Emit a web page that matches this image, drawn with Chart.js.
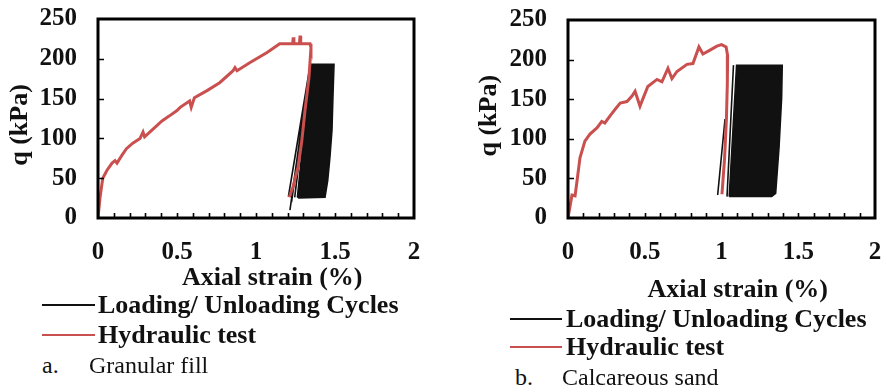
<!DOCTYPE html>
<html>
<head>
<meta charset="utf-8">
<script src="https://cdn.jsdelivr.net/npm/chart.js@4.4.1/dist/chart.umd.min.js"></script>
<style>
  body { margin: 0; background: #fff; width: 887px; height: 392px; position: relative; overflow: hidden; }
  canvas { position: absolute; top: 0; }
  #chartA { left: 0; }
  #chartB { left: 440px; }
  .leg { position: absolute; font: bold 26px 'Liberation Serif', serif; line-height: 30px; white-space: nowrap; color: #111; }
  .cap { position: absolute; font: 24px 'Liberation Serif', serif; line-height: 30px; white-space: nowrap; color: #111; }
  .ln { position: absolute; height: 2px; }
</style>
</head>
<body>
<canvas id="chartA" width="440" height="310"></canvas>
<canvas id="chartB" width="447" height="310"></canvas>

<div class="ln" style="left:42px;top:304px;width:53px;background:#111"></div>
<div class="leg" style="left:98px;top:290px">Loading/ Unloading Cycles</div>
<div class="ln" style="left:42px;top:334px;width:53px;background:#c9504e"></div>
<div class="leg" style="left:98px;top:320px">Hydraulic test</div>
<div class="cap" style="left:42px;top:350px">a.</div>
<div class="cap" style="left:89px;top:350px">Granular fill</div>

<div class="ln" style="left:510px;top:318px;width:52px;background:#111"></div>
<div class="leg" style="left:566px;top:304px">Loading/ Unloading Cycles</div>
<div class="ln" style="left:510px;top:346px;width:52px;background:#c9504e"></div>
<div class="leg" style="left:566px;top:332px">Hydraulic test</div>
<div class="cap" style="left:515px;top:362px">b.</div>
<div class="cap" style="left:562px;top:362px">Calcareous sand</div>

<script>
const RED = '#c9504e';
const BLACK = '#111';

const xLabelStep = 0.5;
const yTicks = [0, 50, 100, 150, 200, 250];

// a. Granular fill
const hydStrainA = [0, 0.013, 0.03, 0.057, 0.089, 0.108, 0.12, 0.152, 0.18, 0.22, 0.266, 0.285, 0.295, 0.35, 0.405, 0.45, 0.5, 0.52, 0.58, 0.59, 0.61, 0.69, 0.77, 0.855, 0.867, 0.88, 0.96, 1.07, 1.15, 1.232, 1.236, 1.24, 1.275, 1.279, 1.283, 1.342, 1.348, 1.335, 1.31, 1.29, 1.266, 1.234, 1.21];
const hydQA      = [0, 26, 50, 60, 69, 72, 69, 79, 87, 94, 100, 108, 102, 112, 122, 128, 135, 139, 147, 139, 151, 160, 170, 185, 189, 185, 195, 208, 219, 219, 227, 219, 219, 229, 219, 219, 214, 176, 135, 97, 64, 39, 26];
const cycStrainA = [1.215, 1.335, 1.205, 1.342, 1.225, 1.345, 1.245, 1.348, 1.262];
const cycQA      = [10, 183, 27, 190, 20, 192, 26, 193, 26];
const blockStrainA = [1.266, 1.297, 1.323, 1.342, 1.494, 1.487, 1.481, 1.468, 1.454, 1.437, 1.266];
const blockQA      = [25, 89, 139, 193, 193, 151, 110, 76, 47, 26, 25];

// b. Calcareous sand
const hydStrainB = [0, 0.026, 0.046, 0.059, 0.078, 0.11, 0.143, 0.19, 0.22, 0.24, 0.274, 0.306, 0.34, 0.384, 0.417, 0.437, 0.469, 0.489, 0.52, 0.58, 0.612, 0.651, 0.677, 0.71, 0.775, 0.814, 0.853, 0.879, 0.925, 0.97, 1.0, 1.03, 1.04, 1.038, 1.032, 1.02, 1.003];
const hydQB      = [0, 29, 28, 47, 76, 97, 106, 114, 122, 120, 129, 137, 145, 147, 154, 160, 141, 151, 166, 175, 172, 189, 176, 185, 194, 195, 216, 207, 212, 217, 219, 216, 205, 170, 125, 75, 30];
const cycStrainB = [0.975, 1.023, 1.03, 1.036, 1.078];
const cycQB      = [29, 125, null, 27, 193];
const blockStrainB = [1.05, 1.098, 1.396, 1.392, 1.375, 1.353, 1.327, 1.05];
const blockQB      = [27, 193, 193, 152, 89, 31, 27, 27];

function pts(xs, ys) {
  return xs.map((x, i) => ({ x: x, y: ys[i] }));
}

// box frame plus inward tick marks
const frame = {
  id: 'frame',
  afterDatasetsDraw(chart) {
    const { ctx, chartArea: a, scales: { x, y } } = chart;
    ctx.save();
    ctx.strokeStyle = '#000';
    ctx.lineWidth = 1.6;
    ctx.beginPath();
    for (let i = 1; i < 20; i++) {
      const px = Math.round(x.getPixelForValue(i / 10)) + 0.5;
      ctx.moveTo(px, a.bottom);
      ctx.lineTo(px, a.bottom - 5);
    }
    yTicks.slice(1, -1).forEach(v => {
      const py = Math.round(y.getPixelForValue(v)) + 0.5;
      ctx.moveTo(a.left, py);
      ctx.lineTo(a.left + 6, py);
    });
    ctx.stroke();
    ctx.lineWidth = 3;
    ctx.strokeRect(a.left, a.top, a.width, a.height);
    ctx.restore();
  }
};

function makeChart(id, hyd, cyc, block, o) {
  const ctx = document.getElementById(id).getContext('2d');
  return new Chart(ctx, {
    type: 'scatter',
    data: {
      datasets: [{
        label: 'Hydraulic test',
        data: hyd,
        showLine: true,
        borderColor: RED,
        borderWidth: 3,
        pointRadius: 0,
        order: 0
      }, {
        label: 'Loading/ Unloading Cycles',
        data: cyc,
        showLine: true,
        borderColor: BLACK,
        borderWidth: 1.6,
        pointRadius: 0,
        spanGaps: false,
        order: 1
      }, {
        label: 'Loading/ Unloading Cycles',
        data: block,
        showLine: true,
        borderColor: BLACK,
        backgroundColor: BLACK,
        borderWidth: 1.5,
        fill: 'shape',
        pointRadius: 0,
        order: 2
      }]
    },
    options: {
      responsive: false,
      animation: false,
      layout: { padding: { top: o.top, right: o.right, left: 0, bottom: 0 } },
      plugins: { legend: { display: false }, tooltip: { enabled: false } },
      scales: {
        x: {
          type: 'linear',
          min: 0,
          max: 2,
          afterFit: s => { s.height = 92; },
          // hidden tick marks only push the labels off the axis
          grid: { display: false, drawTicks: true, tickLength: 20 },
          border: { display: false },
          ticks: {
            stepSize: xLabelStep,
            padding: 0,
            callback: v => String(v),
            color: '#111',
            font: { family: 'Liberation Serif', size: 25, weight: 'bold' }
          },
          title: {
            display: true,
            text: '     Axial strain (%)',
            color: '#111',
            padding: { top: 0, bottom: o.xTitlePad },
            font: { family: 'Liberation Serif', size: 26, weight: 'bold' }
          }
        },
        y: {
          min: 0,
          max: 250,
          afterFit: s => { s.width = o.yWidth; },
          grid: { display: false, drawTicks: true, tickLength: 21 },
          border: { display: false },
          ticks: {
            stepSize: 50,
            padding: 0,
            color: '#111',
            font: { family: 'Liberation Serif', size: 25, weight: 'bold' }
          },
          title: {
            display: true,
            text: o.yTitle,
            color: '#111',
            padding: { top: o.yTitlePad, bottom: 0 },
            font: { family: 'Liberation Serif', size: 26, weight: 'bold' }
          }
        }
      }
    },
    plugins: [frame]
  });
}

makeChart('chartA', pts(hydStrainA, hydQA), pts(cycStrainA, cycQA), pts(blockStrainA, blockQA),
  { top: 19, right: 26, yWidth: 98, yTitlePad: 5, xTitlePad: 16, yTitle: 'q (kPa)  ' });
makeChart('chartB', pts(hydStrainB, hydQB), pts(cycStrainB, cycQB), pts(blockStrainB, blockQB),
  { top: 20, right: 12, yWidth: 128, yTitlePad: 34, xTitlePad: 4, yTitle: ' q (kPa)' });
</script>
</body>
</html>
